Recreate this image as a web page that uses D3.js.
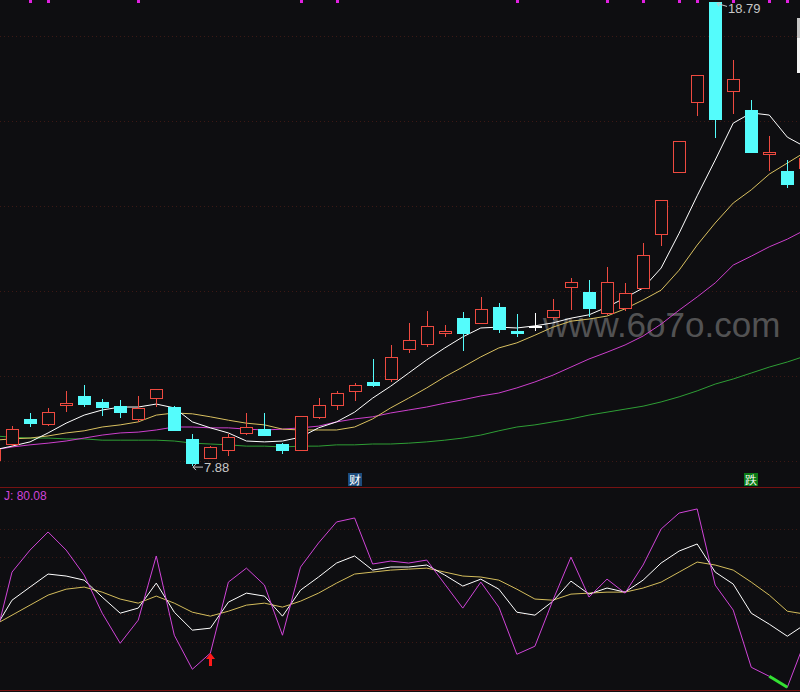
<html>
<head>
  <script src="https://d3js.org/d3.v7.min.js"></script>
  <style>
    body { margin: 0; background: #0e0e11; }
    svg text { font-family: "Liberation Sans", Arial, sans-serif; }
    .grid { stroke: #3c1915; stroke-dasharray: 1,3; stroke-width: 1; }
    .sep { stroke: #761212; stroke-width: 1; }
    .ma { fill: none; stroke-width: 1; }
  </style>
</head>
<body>
  <svg id="chart" width="800" height="692"></svg>
  <script>
    // candle data, first bar sits just off the left edge
    const opens  = [8.02, 8.40, 8.99, 8.87, 9.32, 9.53, 9.39, 9.29, 8.99, 9.48, 9.27, 8.52, 8.07, 8.26, 8.66, 8.75, 8.40, 8.26, 9.04, 9.32, 9.65, 9.86, 9.93, 10.64, 10.75, 11.01, 11.36, 11.25, 11.62, 11.06, 11.18, 11.39, 12.09, 11.98, 11.48, 11.60, 12.07, 13.34, 14.80, 16.45, 18.79, 16.71, 16.26, 15.22, 14.82, 14.89];
    const closes = [8.28, 8.75, 8.89, 9.15, 9.36, 9.34, 9.27, 9.15, 9.25, 9.69, 8.73, 7.95, 8.33, 8.56, 8.80, 8.61, 8.26, 9.06, 9.32, 9.60, 9.79, 9.79, 10.45, 10.85, 11.18, 11.06, 11.01, 11.58, 11.11, 11.01, 11.18, 11.55, 12.21, 11.60, 12.21, 11.95, 12.85, 14.14, 15.53, 17.08, 16.05, 16.99, 15.27, 15.27, 14.52, 15.13];
    const highs  = [8.38, 8.82, 9.13, 9.25, 9.65, 9.79, 9.46, 9.44, 9.53, 9.69, 9.29, 8.64, 8.35, 8.64, 9.13, 9.13, 8.42, 9.06, 9.48, 9.65, 9.84, 10.40, 10.73, 11.25, 11.53, 11.20, 11.51, 11.86, 11.72, 11.46, 11.48, 11.81, 12.31, 12.26, 12.56, 12.19, 13.13, 14.14, 15.53, 17.08, 18.79, 17.44, 16.49, 15.65, 15.08, 15.32];
    const lows   = [7.98, 8.35, 8.80, 8.82, 9.15, 9.27, 9.06, 9.01, 8.92, 9.27, 8.71, 7.88, 8.05, 8.12, 8.61, 8.59, 8.16, 8.24, 8.99, 9.20, 9.41, 9.74, 9.86, 10.54, 10.68, 10.92, 10.59, 11.22, 11.01, 10.92, 11.06, 11.32, 11.55, 11.39, 11.44, 11.53, 12.05, 13.06, 14.80, 16.12, 15.60, 16.16, 15.27, 14.82, 14.42, 14.80];

    // moving averages
    const ma5  = [8.26, 8.35, 8.45, 8.66, 8.89, 9.08, 9.20, 9.27, 9.27, 9.34, 9.25, 8.92, 8.78, 8.66, 8.47, 8.45, 8.47, 8.56, 8.78, 8.92, 9.15, 9.48, 9.76, 10.07, 10.38, 10.66, 10.92, 11.13, 11.15, 11.13, 11.18, 11.25, 11.36, 11.44, 11.62, 11.84, 12.07, 12.54, 13.36, 14.24, 15.08, 15.95, 16.19, 16.14, 15.62, 15.39];
    const ma10 = [8.49, 8.52, 8.54, 8.59, 8.66, 8.71, 8.80, 8.85, 8.92, 9.08, 9.13, 9.11, 9.04, 8.96, 8.89, 8.85, 8.75, 8.73, 8.73, 8.73, 8.80, 8.99, 9.25, 9.48, 9.72, 9.98, 10.21, 10.45, 10.66, 10.78, 10.96, 11.15, 11.29, 11.34, 11.41, 11.58, 11.79, 12.02, 12.49, 13.08, 13.60, 14.07, 14.38, 14.75, 15.01, 15.27];
    const ma20 = [8.26, 8.33, 8.38, 8.42, 8.47, 8.54, 8.61, 8.66, 8.68, 8.73, 8.80, 8.80, 8.78, 8.78, 8.75, 8.73, 8.75, 8.78, 8.82, 8.92, 8.99, 9.04, 9.13, 9.20, 9.27, 9.36, 9.44, 9.53, 9.60, 9.72, 9.86, 10.02, 10.21, 10.40, 10.56, 10.73, 10.94, 11.22, 11.55, 11.86, 12.19, 12.61, 12.82, 13.04, 13.22, 13.44];
    const ma60 = [8.59, 8.56, 8.54, 8.54, 8.52, 8.52, 8.49, 8.49, 8.49, 8.49, 8.47, 8.42, 8.40, 8.38, 8.35, 8.35, 8.33, 8.35, 8.35, 8.38, 8.38, 8.40, 8.40, 8.42, 8.45, 8.49, 8.54, 8.61, 8.71, 8.80, 8.85, 8.92, 8.99, 9.08, 9.15, 9.22, 9.29, 9.39, 9.51, 9.65, 9.81, 9.93, 10.07, 10.21, 10.33, 10.47];

    // KDJ
    const kLine = [28.4, 49.6, 58.9, 68.1, 66.7, 63.8, 51.8, 40.4, 44.0, 61.7, 41.1, 28.4, 29.8, 48.2, 54.6, 52.5, 38.3, 56.7, 66.0, 75.9, 80.9, 70.9, 73.1, 73.1, 74.5, 67.4, 59.6, 64.5, 57.4, 41.1, 39.0, 48.9, 63.1, 53.9, 58.2, 55.3, 63.8, 75.9, 84.4, 89.4, 69.5, 61.0, 40.4, 32.6, 24.1, 32.6];
    const dLine = [31.9, 39.0, 46.1, 53.2, 57.4, 58.9, 55.3, 50.4, 47.5, 52.5, 47.5, 41.1, 38.3, 41.8, 46.1, 47.5, 44.7, 48.9, 54.6, 61.7, 68.1, 69.5, 70.9, 71.6, 72.3, 69.5, 66.7, 66.0, 63.8, 57.4, 50.4, 49.6, 53.9, 54.6, 55.3, 55.3, 58.2, 62.4, 69.5, 76.6, 74.5, 70.9, 62.4, 53.2, 41.8, 39.7];
    const jLine = [18.4, 69.5, 85.1, 97.9, 85.1, 67.4, 40.4, 19.1, 35.5, 80.9, 24.8, 0.7, 12.1, 62.4, 72.3, 60.3, 24.8, 73.0, 90.1, 105.0, 107.8, 75.2, 77.3, 75.9, 78.0, 61.0, 44.0, 62.4, 44.7, 11.3, 17.0, 49.6, 80.1, 51.8, 64.5, 54.6, 74.5, 100.0, 111.3, 114.2, 60.3, 42.6, 2.1, -4.3, -12.1, 21.3];

    const priceTicks = [8, 10, 12, 14, 16, 18];
    const kdjTicks = [20, 40, 60, 80, 100];
    const topMarks = [2, 3, 8, 17, 19, 29, 34, 36, 38, 39, 41, 43, 44];
    const tags = [{ j: 20, text: "财", color: "#1d4c7c" }, { j: 42, text: "跌", color: "#0b7a16" }];
    const buyIdx = 12;
    const sellSeg = [43, 44];
    const jTitle = "J: 80.08";
    const watermark = "www.6o7o.com";

    const red = "#ee4a40";
    const cyan = "#54fcfc";
    const bg = "#0e0e11";

    const svg = d3.select("#chart");
    const width = +svg.attr("width");
    const height = +svg.attr("height");

    svg.append("rect").attr("width", width).attr("height", height).attr("fill", bg);

    const defs = svg.append("defs");
    defs.append("clipPath").attr("id", "clipMain").append("rect")
      .attr("x", 0).attr("y", 0).attr("width", width).attr("height", 487);
    defs.append("clipPath").attr("id", "clipKdj").append("rect")
      .attr("x", 0).attr("y", 488).attr("width", width).attr("height", 202);

    const x = d3.scaleLinear().domain([0, 45]).range([-6, 805.35]);
    const px = j => Math.round(x(j));
    const yPrice = d3.scaleLinear().domain([8, 18]).range([461, 36]);
    const yKdj = d3.scaleLinear().domain([20, 100]).range([642, 529]);

    // grid
    svg.selectAll("line.pgrid").data(priceTicks).join("line")
      .attr("class", "grid")
      .attr("x1", 0).attr("x2", width)
      .attr("y1", d => Math.round(yPrice(d)) + 0.5).attr("y2", d => Math.round(yPrice(d)) + 0.5);
    svg.selectAll("line.kgrid").data(kdjTicks).join("line")
      .attr("class", "grid")
      .attr("x1", 0).attr("x2", width)
      .attr("y1", d => Math.round(yKdj(d)) + 0.5).attr("y2", d => Math.round(yKdj(d)) + 0.5);

    svg.append("line").attr("class", "sep").attr("x1", 0).attr("x2", width).attr("y1", 487.5).attr("y2", 487.5);
    svg.append("line").attr("class", "sep").attr("x1", 0).attr("x2", width).attr("y1", 690.5).attr("y2", 690.5);

    const main = svg.append("g").attr("clip-path", "url(#clipMain)");

    // watermark
    main.append("text")
      .attr("x", 543).attr("y", 337)
      .attr("font-size", 35)
      .attr("fill", "#8a8a8a")
      .attr("opacity", 0.55)
      .text(watermark);

    // MA lines
    const maLine = d3.line().x((d, j) => x(j)).y(d => yPrice(d));
    [[ma60, "#2e9e35"], [ma20, "#cc3fcc"], [ma10, "#d9c060"], [ma5, "#ffffff"]].forEach(([arr, col]) => {
      main.append("path").attr("class", "ma").attr("stroke", col).attr("d", maLine(arr));
    });

    // candles
    const candles = opens.map((o, j) => ({ j, o, c: closes[j], h: highs[j], l: lows[j] }));
    const candleColor = d => d.c > d.o ? red : (d.c < d.o ? cyan : "#ffffff");

    main.selectAll("line.wick").data(candles).join("line")
      .attr("class", "wick")
      .attr("x1", d => px(d.j) + 0.5).attr("x2", d => px(d.j) + 0.5)
      .attr("y1", d => Math.round(yPrice(d.h))).attr("y2", d => Math.round(yPrice(d.l)))
      .attr("stroke", candleColor);

    main.selectAll("rect.body").data(candles).join("rect")
      .attr("class", "body")
      .attr("x", d => px(d.j) - 6 + 0.5)
      .attr("y", d => Math.round(yPrice(Math.max(d.o, d.c))) + 0.5)
      .attr("width", 12)
      .attr("height", d => Math.max(1, Math.round(yPrice(Math.min(d.o, d.c))) - Math.round(yPrice(Math.max(d.o, d.c)))))
      .attr("fill", d => d.c > d.o ? bg : candleColor(d))
      .attr("stroke", candleColor);

    // max / min labels
    const hiIdx = d3.maxIndex(highs);
    const loIdx = d3.minIndex(lows.slice(1)) + 1;
    const hx = px(hiIdx), hy = yPrice(highs[hiIdx]);
    main.append("path")
      .attr("d", `M${hx + 2},${hy + 1} L${hx + 12},${hy + 4} M${hx + 2},${hy + 1} l4,-1 M${hx + 2},${hy + 1} l2,3`)
      .attr("stroke", "#c8c8c8").attr("fill", "none");
    main.append("text").attr("x", hx + 13).attr("y", hy + 11)
      .attr("font-size", 13).attr("fill", "#c8c8c8").text(highs[hiIdx].toFixed(2));
    const lx = px(loIdx), ly = yPrice(lows[loIdx]);
    main.append("path")
      .attr("d", `M${lx + 1},${ly + 1} L${lx + 11},${ly + 1} M${lx + 1},${ly + 1} l3,-3 M${lx + 1},${ly + 1} l3,3`)
      .attr("stroke", "#c8c8c8").attr("fill", "none");
    main.append("text").attr("x", lx + 12).attr("y", ly + 6)
      .attr("font-size", 13).attr("fill", "#c8c8c8").text(lows[loIdx].toFixed(2));

    // top markers
    svg.selectAll("rect.mark").data(topMarks).join("rect")
      .attr("class", "mark")
      .attr("x", d => px(d) - 1).attr("y", 0)
      .attr("width", 3).attr("height", 3)
      .attr("fill", "#e020e0");

    // tags above separator
    const tg = svg.selectAll("g.tag").data(tags).join("g").attr("class", "tag")
      .attr("transform", d => `translate(${px(d.j) - 7},473)`);
    tg.append("rect").attr("width", 14).attr("height", 13).attr("fill", d => d.color);
    tg.append("text").attr("x", 7).attr("y", 11)
      .attr("text-anchor", "middle").attr("font-size", 12)
      .attr("font-family", "'Noto Sans CJK SC', sans-serif")
      .attr("fill", "#ffffff").text(d => d.text);

    // popup fragment at right edge
    svg.append("rect").attr("x", 797).attr("y", 18).attr("width", 3).attr("height", 20).attr("fill", "#c8c8c8");
    svg.append("rect").attr("x", 797).attr("y", 38).attr("width", 3).attr("height", 35).attr("fill", "#f4f4f4");

    // KDJ panel
    const kdj = svg.append("g").attr("clip-path", "url(#clipKdj)");
    const kdjLine = d3.line().x((d, j) => x(j)).y(d => yKdj(d));
    kdj.append("path").attr("class", "ma").attr("stroke", "#d4bd5c").attr("d", kdjLine(dLine));
    kdj.append("path").attr("class", "ma").attr("stroke", "#ffffff").attr("d", kdjLine(kLine));
    kdj.append("path").attr("class", "ma").attr("stroke", "#d044d8").attr("d", kdjLine(jLine));

    kdj.append("line")
      .attr("x1", x(sellSeg[0])).attr("y1", yKdj(jLine[sellSeg[0]]))
      .attr("x2", x(sellSeg[1])).attr("y2", yKdj(jLine[sellSeg[1]]))
      .attr("stroke", "#33e033").attr("stroke-width", 3);

    const ax = px(buyIdx) + 0.5, ay = Math.round(yKdj(jLine[buyIdx]));
    kdj.append("path")
      .attr("d", `M${ax},${ay} L${ax + 4.5},${ay + 6} L${ax + 1.5},${ay + 6} L${ax + 1.5},${ay + 13} L${ax - 1.5},${ay + 13} L${ax - 1.5},${ay + 6} L${ax - 4.5},${ay + 6} Z`)
      .attr("fill", "#ff1a1a");

    svg.append("text").attr("x", 4).attr("y", 500)
      .attr("font-size", 12).attr("fill", "#d044d8").text(jTitle);
  </script>
</body>
</html>
